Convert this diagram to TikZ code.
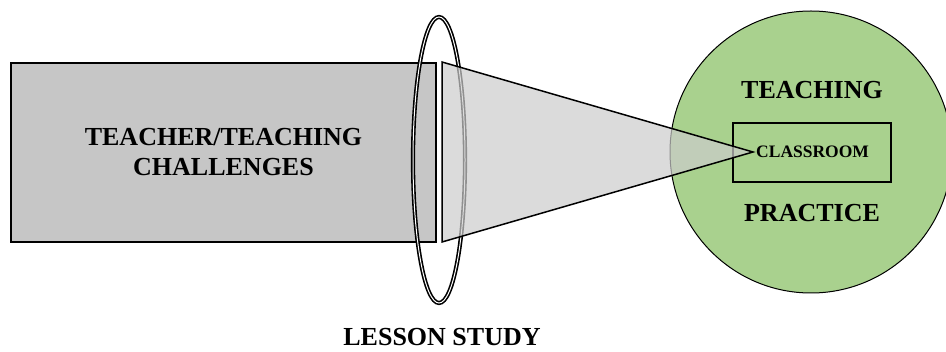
\documentclass[tikz,border=0pt]{standalone}
\usepackage{fontspec}
\setmainfont{Liberation Serif}
\usepackage{tikz}
\usetikzlibrary{shapes.geometric}
\definecolor{practicegreen}{HTML}{A9D18E}

\begin{document}
\begin{tikzpicture}[
			x=1pt, y=-1pt,
			font=\bfseries,
			challenge/.style={
					draw,
					line width=1.8pt,
					fill=gray!45,
					minimum width=425pt,
					minimum height=179pt,
					inner sep=0pt,
					align=center,
					font=\fontsize{26}{30}\selectfont\bfseries
				},
			lens/.style={
					draw,
					ellipse,
					line width=1.6pt,
					double=white,
					double distance=1pt,
					minimum width=52pt,
					minimum height=286pt,
					inner sep=0pt
				},
			practice/.style={
					draw,
					circle,
					line width=1pt,
					fill=practicegreen,
					minimum size=282pt,
					inner sep=0pt
				},
			room/.style={
					draw,
					line width=1.5pt,
					minimum width=158pt,
					minimum height=59pt,
					inner sep=0pt
				},
			bigtext/.style={
					inner sep=0pt,
					font=\fontsize{26}{30}\selectfont\bfseries
				},
			beam/.style={
					draw,
					line width=1.5pt,
					fill=gray!40,
					fill opacity=0.7,
					line join=miter
				}
			]

			\useasboundingbox (0,0) rectangle (946,352);

			% ================= 教学实践 =================
			\node[practice] (tp) at (811,152) {};
			\node[room]     (cls) at (812,152.5) {};
			\node[bigtext]  (teach) at (812,90) {TEACHING};
			\node[bigtext]  (pract) at (812,213) {PRACTICE};

			% ================= 挑战与透镜 =================
			\node[challenge] (chal) at (223.5,152.5) {TEACHER/TEACHING\\CHALLENGES};
			\node[lens]      (ls) at (439,160) {};

			% 光束：从透镜后方收拢到课堂
			\coordinate (apex) at (753,152);
			\path[beam] (442,62) -- (apex) -- (442,242) -- cycle;
			\node[font=\fontsize{17.5}{19}\selectfont\bfseries, anchor=west, inner sep=0pt] (clsname) at ([xshift=3pt]apex) {CLASSROOM};

			\node[bigtext, anchor=base] (lsname) at (442,346) {LESSON STUDY};

		\end{tikzpicture}
\end{document}
